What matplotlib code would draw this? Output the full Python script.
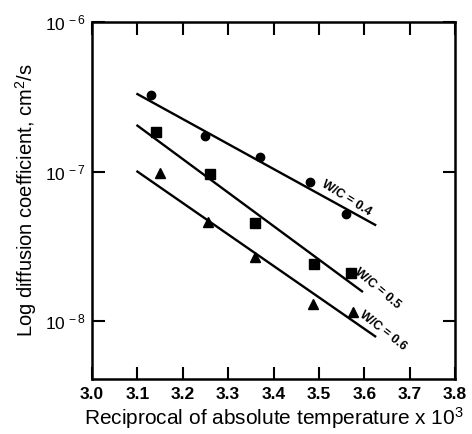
import numpy as np
import matplotlib
matplotlib.use("Agg")
import matplotlib.pyplot as plt

plt.rcParams['font.family'] = ['Liberation Sans', 'DejaVu Sans']
plt.rcParams['mathtext.fontset'] = 'custom'
plt.rcParams['mathtext.rm'] = 'Liberation Sans'
plt.rcParams['mathtext.it'] = 'Liberation Sans:italic'
plt.rcParams['mathtext.bf'] = 'Liberation Sans:bold'

# reciprocal temperature x 10^3 and diffusion coefficients (cm2/s)
x_04 = [3.13, 3.25, 3.37, 3.48, 3.56]
d_04 = [3.26e-7, 1.74e-7, 1.26e-7, 8.5e-8, 5.2e-8]
x_05 = [3.14, 3.26, 3.36, 3.49, 3.57]
d_05 = [1.85e-7, 9.7e-8, 4.5e-8, 2.4e-8, 2.1e-8]
x_06 = [3.15, 3.255, 3.36, 3.487, 3.575]
d_06 = [9.8e-8, 4.6e-8, 2.7e-8, 1.3e-8, 1.15e-8]

# fitted lines (end points)
fit_x = {'0.4': [3.10, 3.624], '0.5': [3.10, 3.595], '0.6': [3.10, 3.624]}
fit_d = {'0.4': [3.3e-7, 4.4e-8], '0.5': [2.03e-7, 1.58e-8], '0.6': [1.0e-7, 7.9e-9]}

xticks = [3.0, 3.1, 3.2, 3.3, 3.4, 3.5, 3.6, 3.7, 3.8]

fig = plt.figure(figsize=(4.72, 4.34), dpi=100)
ax = fig.add_axes([0.195, 0.127, 0.769, 0.822])

ax.plot(x_04, d_04, 'o', color='black', ms=6)
ax.plot(x_05, d_05, 's', color='black', ms=6.5)
ax.plot(x_06, d_06, '^', color='black', ms=7)
for k in fit_x:
    ax.plot(fit_x[k], fit_d[k], '-', color='black', lw=1.7)

ax.set_yscale('log')
ax.set_xlim(3.0, 3.8)
ax.set_ylim(4.1e-9, 1e-6)
ax.set_xticks(xticks)
ax.set_xticklabels(['%.1f' % t for t in xticks])
ax.set_yticks([1e-8, 1e-7, 1e-6])
ax.set_yticklabels([r'$10^{\,-8}$', r'$10^{\,-7}$', r'$10^{\,-6}$'])
ax.yaxis.set_minor_locator(matplotlib.ticker.NullLocator())

ax.tick_params(axis='both', direction='in', length=9, width=1.5,
               top=True, right=True, labelsize=12.5)
ax.tick_params(axis='x', pad=6)
ax.tick_params(axis='y', pad=5)
for t in ax.get_xticklabels():
    t.set_fontweight('bold')
for s in ax.spines.values():
    s.set_linewidth(1.8)

ax.set_xlabel(r'Reciprocal of absolute temperature x 10$^3$', fontsize=15, labelpad=2)
ax.set_ylabel(r'Log diffusion coefficient, cm$^2$/s', fontsize=14.5, labelpad=4)

ax.text(3.56, 6.6e-8, 'W/C = 0.4', rotation=-32, fontsize=9, fontweight='bold',
        ha='center', va='center')
ax.text(3.63, 1.65e-8, 'W/C = 0.5', rotation=-40, fontsize=9, fontweight='bold',
        ha='center', va='center')
ax.text(3.64, 8.6e-9, 'W/C = 0.6', rotation=-38, fontsize=9, fontweight='bold',
        ha='center', va='center')

fig.savefig('out.png', dpi=100)
